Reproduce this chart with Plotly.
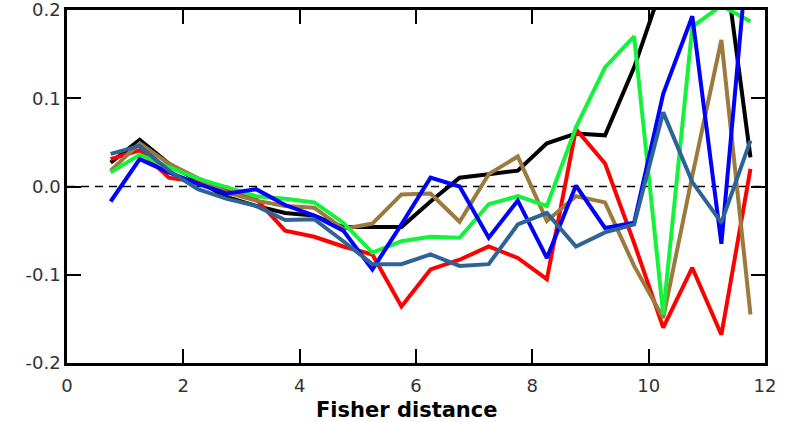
import plotly.graph_objects as go

# Bin centres along the Fisher distance axis
fisher_distance = [0.75, 1.25, 1.75, 2.25, 2.75, 3.25, 3.75, 4.25, 4.75, 5.25, 5.75, 6.25,
                   6.75, 7.25, 7.75, 8.25, 8.75, 9.25, 9.75, 10.25, 10.75, 11.25, 11.75]

black_vals = [0.027, 0.053, 0.026, 0.006, -0.012, -0.022, -0.030, -0.033, -0.046, -0.046, -0.046, -0.017,
              0.010, 0.014, 0.018, 0.049, 0.060, 0.058, 0.135, 0.231, 0.30, 0.283, 0.033]
red_vals = [0.031, 0.041, 0.010, 0.005, -0.003, -0.014, -0.050, -0.057, -0.068, -0.077, -0.136, -0.094,
            -0.083, -0.068, -0.081, -0.105, 0.065, 0.026, -0.064, -0.160, -0.092, -0.168, 0.020]
brown_vals = [0.018, 0.049, 0.026, 0.010, -0.007, -0.016, -0.022, -0.024, -0.048, -0.042, -0.009, -0.008,
              -0.040, 0.014, 0.034, -0.039, -0.011, -0.018, -0.090, -0.149, 0.012, 0.166, -0.145]
green_vals = [0.016, 0.036, 0.022, 0.009, -0.001, -0.011, -0.014, -0.018, -0.041, -0.075, -0.062, -0.057,
              -0.058, -0.020, -0.011, -0.022, 0.067, 0.135, 0.170, -0.145, 0.181, 0.205, 0.187]
blue_vals = [-0.017, 0.031, 0.016, 0.003, -0.008, -0.003, -0.021, -0.033, -0.050, -0.094, -0.043, 0.010,
             0.000, -0.058, -0.016, -0.081, 0.001, -0.047, -0.041, 0.105, 0.193, -0.065, 0.30]
steel_vals = [0.037, 0.046, 0.018, -0.003, -0.014, -0.022, -0.038, -0.037, -0.062, -0.088, -0.088, -0.077,
              -0.090, -0.088, -0.043, -0.030, -0.068, -0.052, -0.043, 0.084, 0.005, -0.041, 0.052]

series = [
    (black_vals, "#000000"),
    (red_vals, "#ff0000"),
    (brown_vals, "#9c7a3e"),
    (green_vals, "#14f23c"),
    (blue_vals, "#0000ff"),
    (steel_vals, "#2c6497"),
]

x_ticks = [0, 2, 4, 6, 8, 10, 12]
y_ticks = [-0.2, -0.1, 0.0, 0.1, 0.2]
y_tick_text = ["-0.2", "-0.1", "0.0", "0.1", "0.2"]

fig = go.Figure()
for vals, color in series:
    fig.add_trace(go.Scatter(
        x=fisher_distance, y=vals, mode="lines",
        line=dict(color=color, width=4), showlegend=False,
    ))

# Dashed zero reference line
fig.add_shape(type="line", xref="paper", x0=0, x1=1, yref="y", y0=0, y1=0,
              line=dict(color="black", width=1.6, dash="8px,6px"), layer="below")

axis_common = dict(
    showgrid=False, zeroline=False, showline=True, linecolor="black", linewidth=2.5,
    mirror="ticks", ticks="inside", ticklen=14, tickwidth=2.2, tickcolor="black",
    automargin=False, ticklabeloverflow="allow",
    tickfont=dict(family="DejaVu Sans", size=18, color="#333333"),
)

fig.update_layout(
    width=792, height=422,
    margin=dict(l=67, r=27, t=10, b=59),
    paper_bgcolor="white", plot_bgcolor="white",
    xaxis=dict(range=[0, 12], tickvals=x_ticks, ticktext=[str(v) for v in x_ticks],
               ticklabelstandoff=5, **axis_common),
    yaxis=dict(range=[-0.2, 0.2], tickvals=y_ticks, ticktext=y_tick_text, **axis_common),
    annotations=[dict(
        text="<b>Fisher distance</b>", xref="paper", yref="paper",
        x=0.487, y=-0.133, xanchor="center", yanchor="middle", showarrow=False,
        font=dict(family="DejaVu Sans", size=21, color="black"),
    )],
)

fig.write_html("out.html")
